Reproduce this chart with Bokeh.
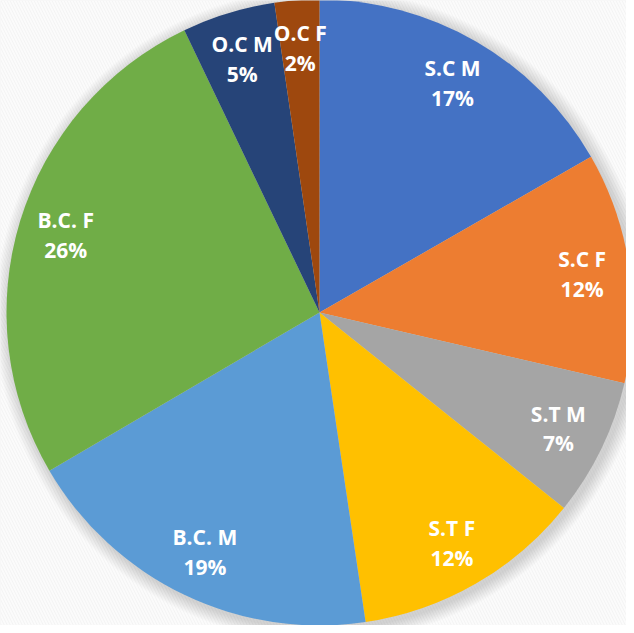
import math
from bokeh.plotting import figure
from bokeh.models import ColumnDataSource, Range1d
from bokeh.core.properties import value
from bokeh.embed import file_html
from bokeh.resources import INLINE

categories = ["S.C M", "S.C F", "S.T M", "S.T F", "B.C. M", "B.C. F", "O.C M", "O.C F"]
values = [16.7, 11.9, 7.1, 11.9, 18.9, 26.3, 4.8, 2.3]
colors = ["#4472C4", "#ED7D31", "#A5A5A5", "#FFC000", "#5B9BD5", "#70AD47", "#264478", "#9E480E"]

R = 313
total = sum(values)
starts, ends, lx, ly, pct = [], [], [], [], []
cum = 0.0
for v in values:
    a0 = math.pi / 2 - 2 * math.pi * cum / total
    cum += v
    a1 = math.pi / 2 - 2 * math.pi * cum / total
    starts.append(a0)
    ends.append(a1)
    mid = (a0 + a1) / 2
    lx.append(0.848 * R * math.cos(mid))
    ly.append(0.848 * R * math.sin(mid))
    pct.append(f"{round(v / total * 100)}%")

src = ColumnDataSource(dict(cat=categories, start=starts, end=ends, color=colors,
                            lx=lx, ly=ly, pct=pct))

p = figure(width=626, height=625, output_backend="svg", toolbar_location=None,
           x_range=Range1d(-319, 307), y_range=Range1d(-313, 312),
           min_border=0)
p.axis.visible = False
p.grid.visible = False
p.outline_line_color = None
p.background_fill_color = "#f1f1f1"
p.border_fill_color = "#f1f1f1"

# subtle diagonal texture
p.rect(x=[0], y=[0], width=[700], height=[700], fill_color="#f1f1f1",
       line_color=None, hatch_pattern="\\", hatch_color="#fbfbfb",
       hatch_scale=6, hatch_weight=2)

# soft shadow around pie
for k in range(14, 0, -1):
    p.circle(x=[3], y=[-3], radius=[R + k], fill_color="#808080",
             fill_alpha=0.025, line_color=None)

p.wedge(x=0, y=0, radius=R, start_angle="start", end_angle="end",
        direction="clock", fill_color="color", line_color=None, source=src)

p.text(x="lx", y="ly", text="cat", source=src, text_align="center",
       text_baseline="middle", text_color="white", text_font=value("Open Sans"),
       text_font_style="bold", text_font_size="21px", y_offset=-14.5)
p.text(x="lx", y="ly", text="pct", source=src, text_align="center",
       text_baseline="middle", text_color="white", text_font=value("Open Sans"),
       text_font_style="bold", text_font_size="21px", y_offset=15)

open("out.html", "w").write(file_html(p, INLINE))
